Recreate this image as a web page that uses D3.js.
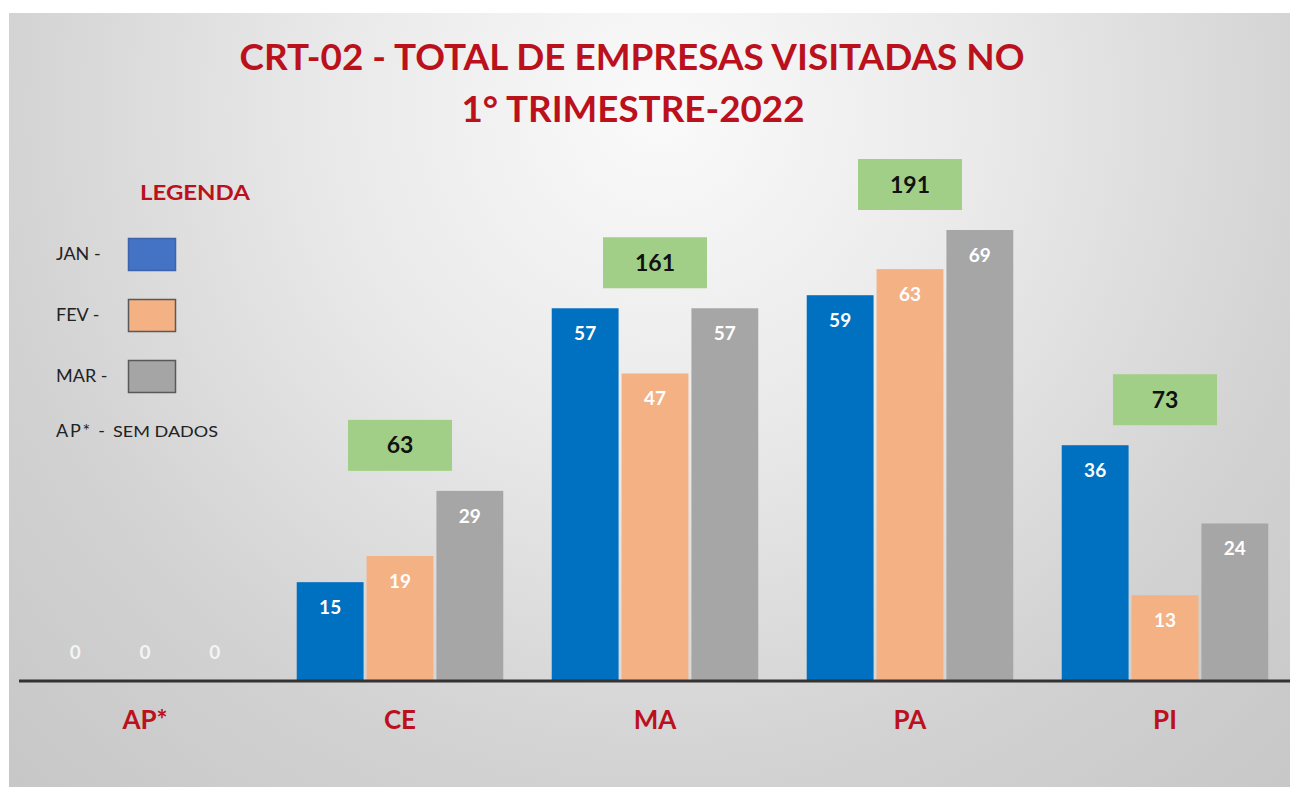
<!DOCTYPE html>
<html>
<head>
<meta charset="utf-8">
<script src="https://cdn.jsdelivr.net/npm/d3@7"></script>
<style>
  body { margin: 0; background: #fff; }
  svg { display: block; }
</style>
</head>
<body>
<div id="chart"></div>
<script>
const categories = ["AP*", "CE", "MA", "PA", "PI"];
const months = ["JAN", "FEV", "MAR"];
const janValues = [0, 15, 57, 59, 36];
const fevValues = [0, 19, 47, 63, 13];
const marValues = [0, 29, 57, 69, 24];
const totals = [null, 63, 161, 191, 73];

const W = 1290, H = 787;
const RED = "#bb111d";
const barColors = { JAN: "#0070c0", FEV: "#f4b183", MAR: "#a6a6a6" };
const legendColors = { JAN: "#4472c4", FEV: "#f4b183", MAR: "#a5a5a5" };
const legendStroke = { JAN: "#3b64ad", FEV: "#595959", MAR: "#595959" };
const FONT = "Lato, 'Open Sans', sans-serif";

const series = { JAN: janValues, FEV: fevValues, MAR: marValues };
const rows = categories.map((c, i) => ({
  cat: c,
  total: totals[i],
  vals: months.map(m => ({ month: m, value: series[m][i] }))
}));

const svg = d3.select("#chart").append("svg")
  .attr("width", W).attr("height", H);

/* background panel with soft radial light */
const defs = svg.append("defs");
const grad = defs.append("radialGradient").attr("id", "bg")
  .attr("gradientUnits", "userSpaceOnUse")
  .attr("cx", 660).attr("cy", 110).attr("r", 960);
grad.append("stop").attr("offset", 0).attr("stop-color", "#fafafa");
grad.append("stop").attr("offset", 0.35).attr("stop-color", "#e9e9e9");
grad.append("stop").attr("offset", 0.7).attr("stop-color", "#d2d2d2");
grad.append("stop").attr("offset", 1).attr("stop-color", "#c6c6c6");
svg.append("rect").attr("x", 9).attr("y", 13)
  .attr("width", W - 9).attr("height", H - 13).attr("fill", "url(#bg)");

/* scales */
const baseY = 680;
const x = d3.scaleBand().domain(categories)
  .range([17.5, 1292.5]).paddingInner(0.19).paddingOuter(0.095);
const xm = d3.scaleBand().domain(months)
  .range([0, x.bandwidth()]).paddingInner(0.043);
const y = d3.scaleLinear().domain([0, 69]).range([baseY, 230]);

/* title */
const title = svg.append("g").attr("font-family", FONT).attr("font-weight", 700)
  .attr("fill", RED).attr("text-anchor", "middle");
title.append("text").attr("x", 632).attr("y", 70).attr("font-size", 36)
  .attr("textLength", 785).attr("lengthAdjust", "spacingAndGlyphs")
  .text("CRT-02 - TOTAL DE EMPRESAS VISITADAS NO");
title.append("text").attr("x", 633).attr("y", 122).attr("font-size", 36)
  .attr("textLength", 343).attr("lengthAdjust", "spacingAndGlyphs")
  .text("1° TRIMESTRE-2022");

/* bars */
const groups = svg.append("g").selectAll("g.grp").data(rows).join("g")
  .attr("class", "grp")
  .attr("transform", d => `translate(${x(d.cat)},0)`);

groups.selectAll("rect").data(d => d.vals).join("rect")
  .attr("x", d => xm(d.month))
  .attr("y", d => y(d.value))
  .attr("width", xm.bandwidth())
  .attr("height", d => baseY - y(d.value))
  .attr("fill", d => barColors[d.month]);

groups.selectAll("text.val").data(d => d.vals).join("text")
  .attr("class", "val")
  .attr("x", d => xm(d.month) + xm.bandwidth() / 2)
  .attr("y", d => d.value === 0 ? baseY - 21 : y(d.value) + 32)
  .attr("text-anchor", "middle")
  .attr("font-family", FONT).attr("font-weight", 700).attr("font-size", 19)
  .attr("fill", d => d.value === 0 ? "#f4f4f4" : "#fff")
  .text(d => d.value);

/* total boxes */
const boxW = 104, boxH = 51;
groups.filter(d => d.total != null).each(function(d) {
  const g = d3.select(this);
  const top = y(d3.max(d.vals, v => v.value));
  const cx = x.bandwidth() / 2;
  g.append("rect").attr("x", cx - boxW / 2).attr("y", top - 20 - boxH)
    .attr("width", boxW).attr("height", boxH).attr("fill", "#a2cf87");
  g.append("text").attr("x", cx).attr("y", top - 20 - boxH / 2 + 8)
    .attr("text-anchor", "middle")
    .attr("font-family", FONT).attr("font-weight", 700).attr("font-size", 23)
    .attr("fill", "#111").text(d.total);
});

/* baseline */
svg.append("line").attr("x1", 19).attr("x2", W).attr("y1", baseY + 1).attr("y2", baseY + 1)
  .attr("stroke", "#333").attr("stroke-width", 3);

/* category labels */
svg.append("g").selectAll("text").data(categories).join("text")
  .attr("x", d => x(d) + x.bandwidth() / 2)
  .attr("y", 729)
  .attr("text-anchor", "middle")
  .attr("font-family", FONT).attr("font-weight", 700).attr("font-size", 26)
  .attr("fill", RED)
  .text(d => d);

/* legend */
const leg = svg.append("g").attr("font-family", FONT);
leg.append("text").attr("x", 140).attr("y", 200)
  .attr("font-weight", 700).attr("font-size", 21).attr("fill", RED)
  .attr("textLength", 110).attr("lengthAdjust", "spacingAndGlyphs")
  .text("LEGENDA");
months.forEach((m, i) => {
  const yy = 238 + i * 61;
  leg.append("rect").attr("x", 128.5).attr("y", yy + 0.5).attr("width", 47).attr("height", 32)
    .attr("fill", legendColors[m]).attr("stroke", legendStroke[m]).attr("stroke-width", 1.5);
  leg.append("text").attr("x", 56).attr("y", yy + 22)
    .attr("font-size", 18).attr("fill", "#222").text(m + " -");
});
const apNote = leg.append("text").attr("y", 437).attr("fill", "#222");
apNote.append("tspan").attr("x", 56).attr("font-size", 18)
  .attr("textLength", 49).attr("lengthAdjust", "spacing").text("AP* -");
apNote.append("tspan").attr("x", 113).attr("font-size", 15)
  .attr("textLength", 105).attr("lengthAdjust", "spacingAndGlyphs").text("SEM DADOS");
</script>
</body>
</html>
